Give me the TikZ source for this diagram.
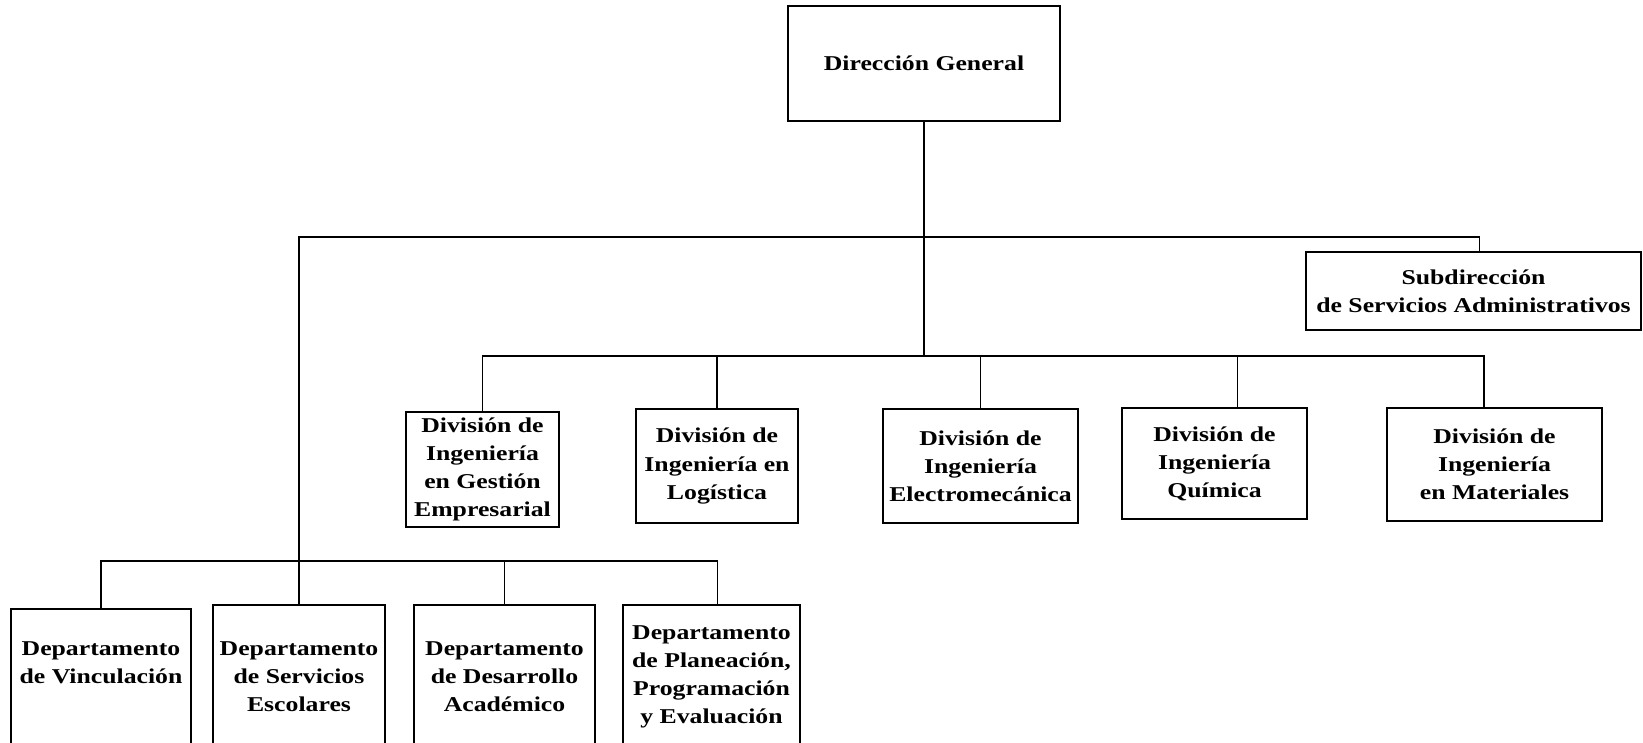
\documentclass[tikz,border=0pt]{standalone}
\usepackage{fontspec}
\newfontfamily\orgfont{Liberation Serif}[FakeStretch=1.22]
\usetikzlibrary{positioning}

\begin{document}
\begin{tikzpicture}[
  unit/.style={rectangle, draw, line width=1.1pt, font=\orgfont\bfseries\fontsize{12}{16}\selectfont, align=center, inner sep=1pt},
  dept/.style={unit, minimum height=2.88cm},
  link/.style={line width=1.1pt}
]
\useasboundingbox (0,0) rectangle (32.86,-14.84);
\clip (0,0) rectangle (32.86,-14.84);

% Top
\node[unit, minimum width=5.44cm, minimum height=2.3cm] (dg) at (18.48,-1.27) {Dirección General};
\node[unit, minimum width=6.7cm, minimum height=1.56cm] (sub) at (29.47,-5.82) {Subdirección\\de Servicios Administrativos};

% Divisions
\node[unit, minimum width=3.06cm, minimum height=2.3cm] (divG) at (9.65,-9.39) {División de\\Ingeniería\\en Gestión\\Empresarial};
\node[unit, minimum width=3.24cm, minimum height=2.28cm] (divL) at (14.34,-9.32) {División de\\Ingeniería en\\Logística};
\node[unit, minimum width=3.9cm, minimum height=2.28cm] (divE) at (19.61,-9.32) {División de\\Ingeniería\\Electromecánica};
\node[unit, minimum width=3.7cm, minimum height=2.22cm] (divQ) at (24.29,-9.27) {División de\\Ingeniería\\Química};
\node[unit, minimum width=4.3cm, minimum height=2.26cm] (divM) at (29.89,-9.29) {División de\\Ingeniería\\en Materiales};

% Departments
\node[dept, minimum width=3.6cm] (vinc) at (2.02,-13.62) {Departamento\\de Vinculación\\\strut};
\node[dept, minimum width=3.44cm] (serv) at (5.98,-13.54) {Departamento\\de Servicios\\Escolares};
\node[dept, minimum width=3.62cm] (desa) at (10.09,-13.54) {Departamento\\de Desarrollo\\Académico};
\node[dept, minimum width=3.54cm] (plan) at (14.23,-13.54) {Departamento\\de Planeación,\\Programación\\y Evaluación};

% Buses
\coordinate (topbus) at (18.48,-4.74);
\coordinate (divbus) at (18.48,-7.12);
\coordinate (deptbus) at (5.98,-11.22);

% Lines
\draw[link] (dg.south) -- (divbus);
\draw[link] (serv.north) |- (topbus) -| ([xshift=0.12cm]sub.north);
\draw[link] (divG.north) |- (divbus) -| ([xshift=-0.21cm]divM.north);
\draw[link] (divL.north) -- (divL.north |- divbus);
\draw[link] (divE.north) -- (divE.north |- divbus);
\draw[link] ([xshift=0.46cm]divQ.north) -- ([xshift=0.46cm]divQ.north |- divbus);
\draw[link] (vinc.north) |- (deptbus) -| ([xshift=0.12cm]plan.north);
\draw[link] (desa.north) -- (desa.north |- deptbus);

\end{tikzpicture}
\end{document}
